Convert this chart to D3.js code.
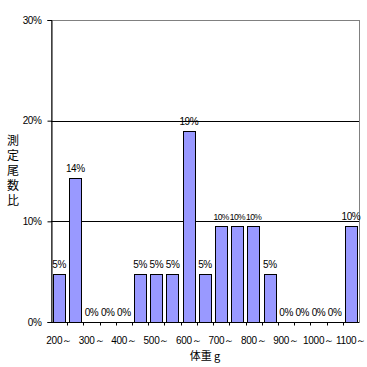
<!DOCTYPE html>
<html>
<head>
<meta charset="utf-8">
<script src="https://cdn.jsdelivr.net/npm/d3@7"></script>
<style>
  body { margin: 0; background: #fff; }
  text { font-family: "Liberation Sans", Arial, sans-serif; }
</style>
</head>
<body>
<div id="chart"></div>
<script>
(function(d3) {
  'use strict';
  // data
  var bins = [200, 250, 300, 350, 400, 450, 500, 550, 600, 650, 700, 750, 800, 850, 900, 950, 1000, 1050, 1100];
  var shares = [4.8, 14.3, 0, 0, 0, 4.8, 4.8, 4.8, 19.0, 4.8, 9.5, 9.5, 9.5, 4.8, 0, 0, 0, 0, 9.5];
  var yTicks = [0, 10, 20, 30];
  var xLabels = ['200～', '300～', '400～', '500～', '600～', '700～', '800～', '900～', '1000～', '1100～'];
  var yTitle = '測定尾数比';
  var xTitle = '体重 g';

  var width = 367, height = 367;
  var margin = {top: 20, right: 8, bottom: 45, left: 51};
  var plotW = width - margin.left - margin.right;
  var plotH = height - margin.top - margin.bottom;

  var barColor = '#9999ff';
  var borderColor = '#808080';

  var x = d3.scaleBand()
    .domain(bins)
    .range([0, plotW])
    .paddingInner(0.24)
    .paddingOuter(0.12);

  var y = d3.scaleLinear()
    .domain([0, 30])
    .range([plotH, 0]);

  var svg = d3.select('#chart').append('svg')
    .attr('width', width)
    .attr('height', height)
    .style('background', '#fff');

  var g = svg.append('g')
    .attr('transform', 'translate(' + margin.left + ',' + margin.top + ')');

  // plot border (top/right grey)
  g.append('rect')
    .attr('x', 0.5)
    .attr('y', 0.5)
    .attr('width', plotW)
    .attr('height', plotH)
    .attr('fill', 'none')
    .attr('stroke', borderColor);

  // gridlines
  g.selectAll('.grid')
    .data(yTicks.filter(function(d) { return d > 0 && d < 30; }))
    .enter().append('line')
    .attr('x1', 0)
    .attr('x2', plotW)
    .attr('y1', function(d) { return Math.round(y(d)) + 0.5; })
    .attr('y2', function(d) { return Math.round(y(d)) + 0.5; })
    .attr('stroke', '#000');

  // bars
  g.selectAll('.bar')
    .data(shares)
    .enter().append('rect')
    .attr('x', function(d, i) { return Math.round(x(bins[i])) + 0.5; })
    .attr('y', function(d) { return Math.round(y(d)) + 0.5; })
    .attr('width', Math.round(x.bandwidth()))
    .attr('height', function(d) { return Math.round(y(0)) - Math.round(y(d)); })
    .attr('fill', barColor)
    .attr('stroke', '#000');

  // bar labels; smaller where a wide label has a neighbour at the same height
  var step = x.step();
  g.selectAll('.lbl')
    .data(shares)
    .enter().append('text')
    .attr('x', function(d, i) { return x(bins[i]) + x.bandwidth() / 2; })
    .attr('y', function(d) { return y(d) - 6; })
    .attr('text-anchor', 'middle')
    .attr('font-size', '10px')
    .attr('letter-spacing', '-0.4px')
    .text(function(d) { return Math.round(d) + '%'; })
    .each(function(d, i) {
      var crowded = shares[i - 1] === d || shares[i + 1] === d;
      if (crowded && this.getComputedTextLength() > step - 1) {
        d3.select(this)
          .attr('font-size', '8.5px')
          .attr('letter-spacing', '-0.6px');
      }
    });

  // y axis
  var yAxis = d3.axisLeft(y)
    .tickValues(yTicks)
    .tickSize(4)
    .tickPadding(6)
    .tickFormat(function(d) { return d + '%'; });

  var yg = g.append('g').attr('transform', 'translate(0.5,0)').call(yAxis);
  yg.select('.domain').attr('stroke', '#000');
  yg.selectAll('.tick text')
    .attr('font-size', '10px')
    .attr('font-family', '"Liberation Sans", Arial, sans-serif')
    .attr('letter-spacing', '-0.4px')
    .attr('fill', '#000');

  // x axis: tick marks between categories
  var xAxisG = g.append('g').attr('transform', 'translate(0,' + (Math.round(plotH) + 0.5) + ')');
  xAxisG.append('line')
    .attr('x1', 0).attr('x2', plotW)
    .attr('stroke', '#000');
  xAxisG.selectAll('.xt')
    .data(bins.slice(1))
    .enter().append('line')
    .attr('x1', function(d) { return Math.round(x(d) - step * x.paddingInner() / 2) + 0.5; })
    .attr('x2', function(d) { return Math.round(x(d) - step * x.paddingInner() / 2) + 0.5; })
    .attr('y1', 0)
    .attr('y2', 3)
    .attr('stroke', '#000');

  xAxisG.selectAll('.xl')
    .data(xLabels)
    .enter().append('text')
    .attr('x', function(d, i) { return x(bins[i * 2]) + x.bandwidth() / 2; })
    .attr('y', 21)
    .attr('text-anchor', 'middle')
    .attr('font-size', '10px')
    .attr('letter-spacing', '-0.3px')
    .text(function(d) { return d; });

  // axis titles
  svg.append('text')
    .attr('x', margin.left + plotW / 2)
    .attr('y', 360)
    .attr('text-anchor', 'middle')
    .attr('font-size', '11px')
    .style('font-family', '"Noto Sans CJK JP", sans-serif')
    .text(xTitle);

  svg.append('text')
    .attr('x', 13)
    .attr('y', 134)
    .attr('font-size', '12px')
    .attr('letter-spacing', '3px')
    .style('writing-mode', 'vertical-rl')
    .style('font-family', '"Noto Sans CJK JP", sans-serif')
    .text(yTitle);
})(window.d3);
</script>
</body>
</html>
